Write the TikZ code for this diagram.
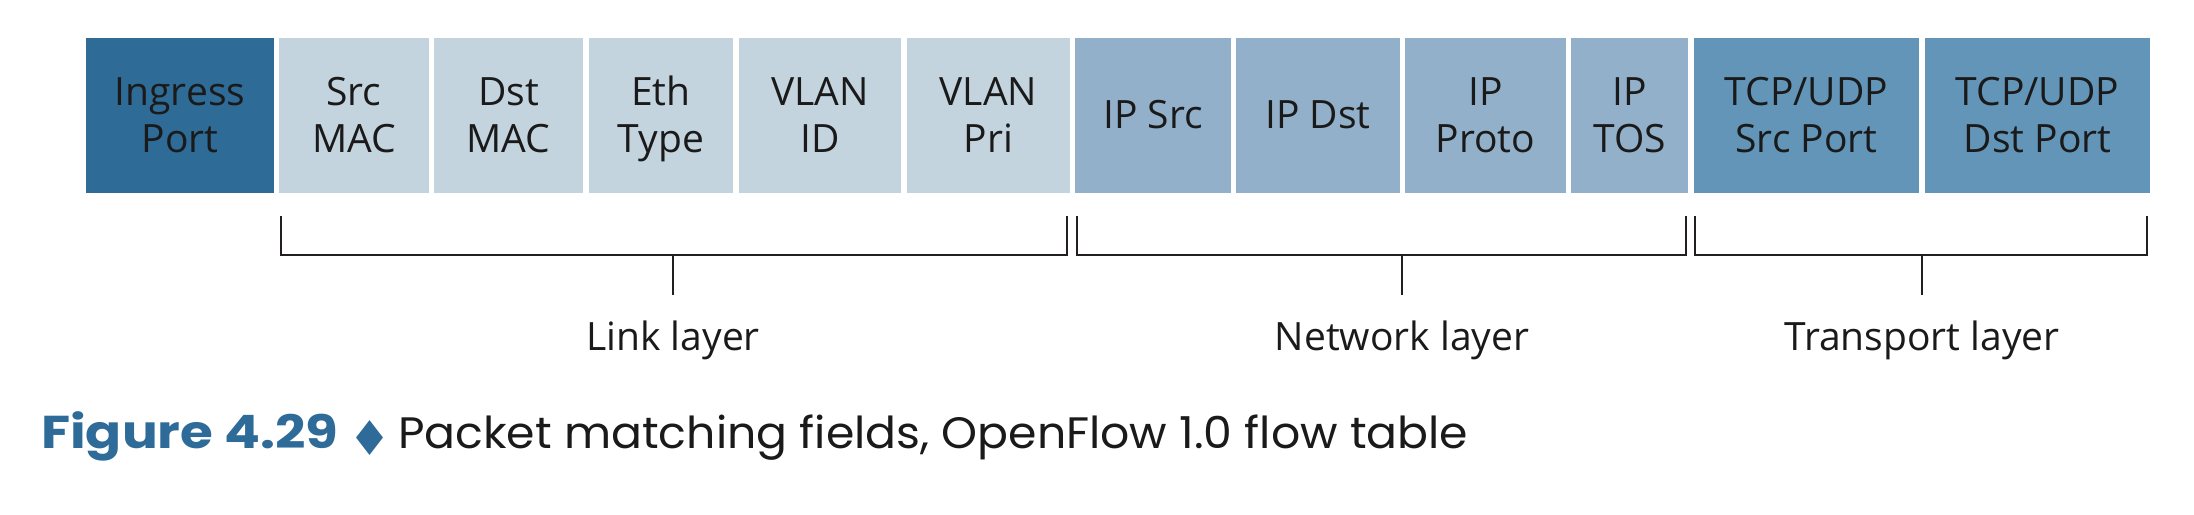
\documentclass[tikz,border=0pt]{standalone}
\usepackage{fontspec}
\setmainfont{Open Sans}
\newfontfamily\capfont{Poppins}[FakeStretch=1.04]
\newfontfamily\figfont{Poppins}[FakeStretch=1.155]
\newfontfamily\symfont{DejaVu Sans}
\definecolor{dark}{HTML}{2E6B96}
\definecolor{light}{HTML}{C4D4DF}
\definecolor{mid}{HTML}{92B0C9}
\definecolor{trans}{HTML}{6295B7}
\definecolor{capblue}{HTML}{2F6B98}
\definecolor{txt}{HTML}{1A1A1A}
\definecolor{brk}{HTML}{231F20}
\newcommand\fieldbox[4]{%
  \node[fieldbox, fill=#4, minimum width={(#3-#2)*1pt}] (#1) at ({(#2+#3)/2},115.5) {};}
\newcommand\twolines[3]{%
  \node[fieldtxt] (#1-a) at (#1.center |- 0,105) {#2};
  \node[fieldtxt] (#1-b) at (#1.center |- 0,152) {#3};}
\newcommand\oneline[2]{%
  \node[fieldtxt] (#1-a) at (#1.center |- 0,128) {#2};}
\begin{document}
\begin{tikzpicture}[x=1pt,y=-1pt,
  fieldbox/.style={draw=none, inner sep=0pt, minimum height=155pt},
  fieldtxt/.style={font=\fontsize{39}{47}\selectfont, text=txt, inner sep=0pt, anchor=base},
  brk/.style={draw=brk, line width=2.2pt},
  layertxt/.style={font=\fontsize{39}{47}\selectfont, text=txt, inner sep=0pt, anchor=base}]
\useasboundingbox[fill=white] (0,0) rectangle (2194,514);
% fields
\fieldbox{ingress}{86}{274}{dark}
\fieldbox{srcmac}{279}{429}{light}
\fieldbox{dstmac}{434}{583}{light}
\fieldbox{ethtype}{589}{733}{light}
\fieldbox{vlanid}{739}{901}{light}
\fieldbox{vlanpri}{907}{1070}{light}
\fieldbox{ipsrc}{1075}{1231}{mid}
\fieldbox{ipdst}{1236}{1400}{mid}
\fieldbox{ipproto}{1405}{1566}{mid}
\fieldbox{iptos}{1571}{1688}{mid}
\fieldbox{tcpsrc}{1694}{1919}{trans}
\fieldbox{tcpdst}{1925}{2150}{trans}
\twolines{ingress}{Ingress}{Port}
\twolines{srcmac}{Src}{MAC}
\twolines{dstmac}{Dst}{MAC}
\twolines{ethtype}{Eth}{Type}
\twolines{vlanid}{VLAN}{ID}
\twolines{vlanpri}{VLAN}{Pri}
\oneline{ipsrc}{IP Src}
\oneline{ipdst}{IP Dst}
\twolines{ipproto}{IP}{Proto}
\twolines{iptos}{IP}{TOS}
\twolines{tcpsrc}{TCP/UDP}{Src Port}
\twolines{tcpdst}{TCP/UDP}{Dst Port}
% layer labels
\node[layertxt] (link) at (673,350) {Link layer};
\node[layertxt] (net) at (1402,350) {Network layer};
\node[layertxt] (transp) at (1922,350) {Transport layer};
% bracket coordinates
\coordinate (lkA) at (281,216); \coordinate (lkB) at (281,255);
\coordinate (lkC) at (1067,255); \coordinate (lkD) at (1067,216);
\coordinate (lkM) at (673,255); \coordinate (lkT) at (673,295);
\coordinate (nwA) at (1077,216); \coordinate (nwB) at (1077,255);
\coordinate (nwC) at (1686,255); \coordinate (nwD) at (1686,216);
\coordinate (nwM) at (1402,255); \coordinate (nwT) at (1402,295);
\coordinate (tpA) at (1695,216); \coordinate (tpB) at (1695,255);
\coordinate (tpC) at (2147,255); \coordinate (tpD) at (2147,216);
\coordinate (tpM) at (1922,255); \coordinate (tpT) at (1922,295);
\draw[brk] (lkA) -- (lkB) -- (lkC) -- (lkD);
\draw[brk] (lkM) -- (lkT);
\draw[brk] (nwA) -- (nwB) -- (nwC) -- (nwD);
\draw[brk] (nwM) -- (nwT);
\draw[brk] (tpA) -- (tpB) -- (tpC) -- (tpD);
\draw[brk] (tpM) -- (tpT);
% caption
\node[anchor=base west, inner sep=0pt, text=capblue, font=\figfont\bfseries\fontsize{46}{50}\selectfont] (fig) at (41,448) {Figure 4.29};
\node[anchor=center, inner sep=0pt, text=capblue, font=\symfont\fontsize{48}{52}\selectfont] (dia) at (370,438) {♦};
\node[anchor=base west, inner sep=0pt, text=txt, font=\capfont\fontsize{44}{50}\selectfont] (cap) at (398,448) {Packet matching fields, OpenFlow 1.0 flow table};
\end{tikzpicture}
\end{document}
